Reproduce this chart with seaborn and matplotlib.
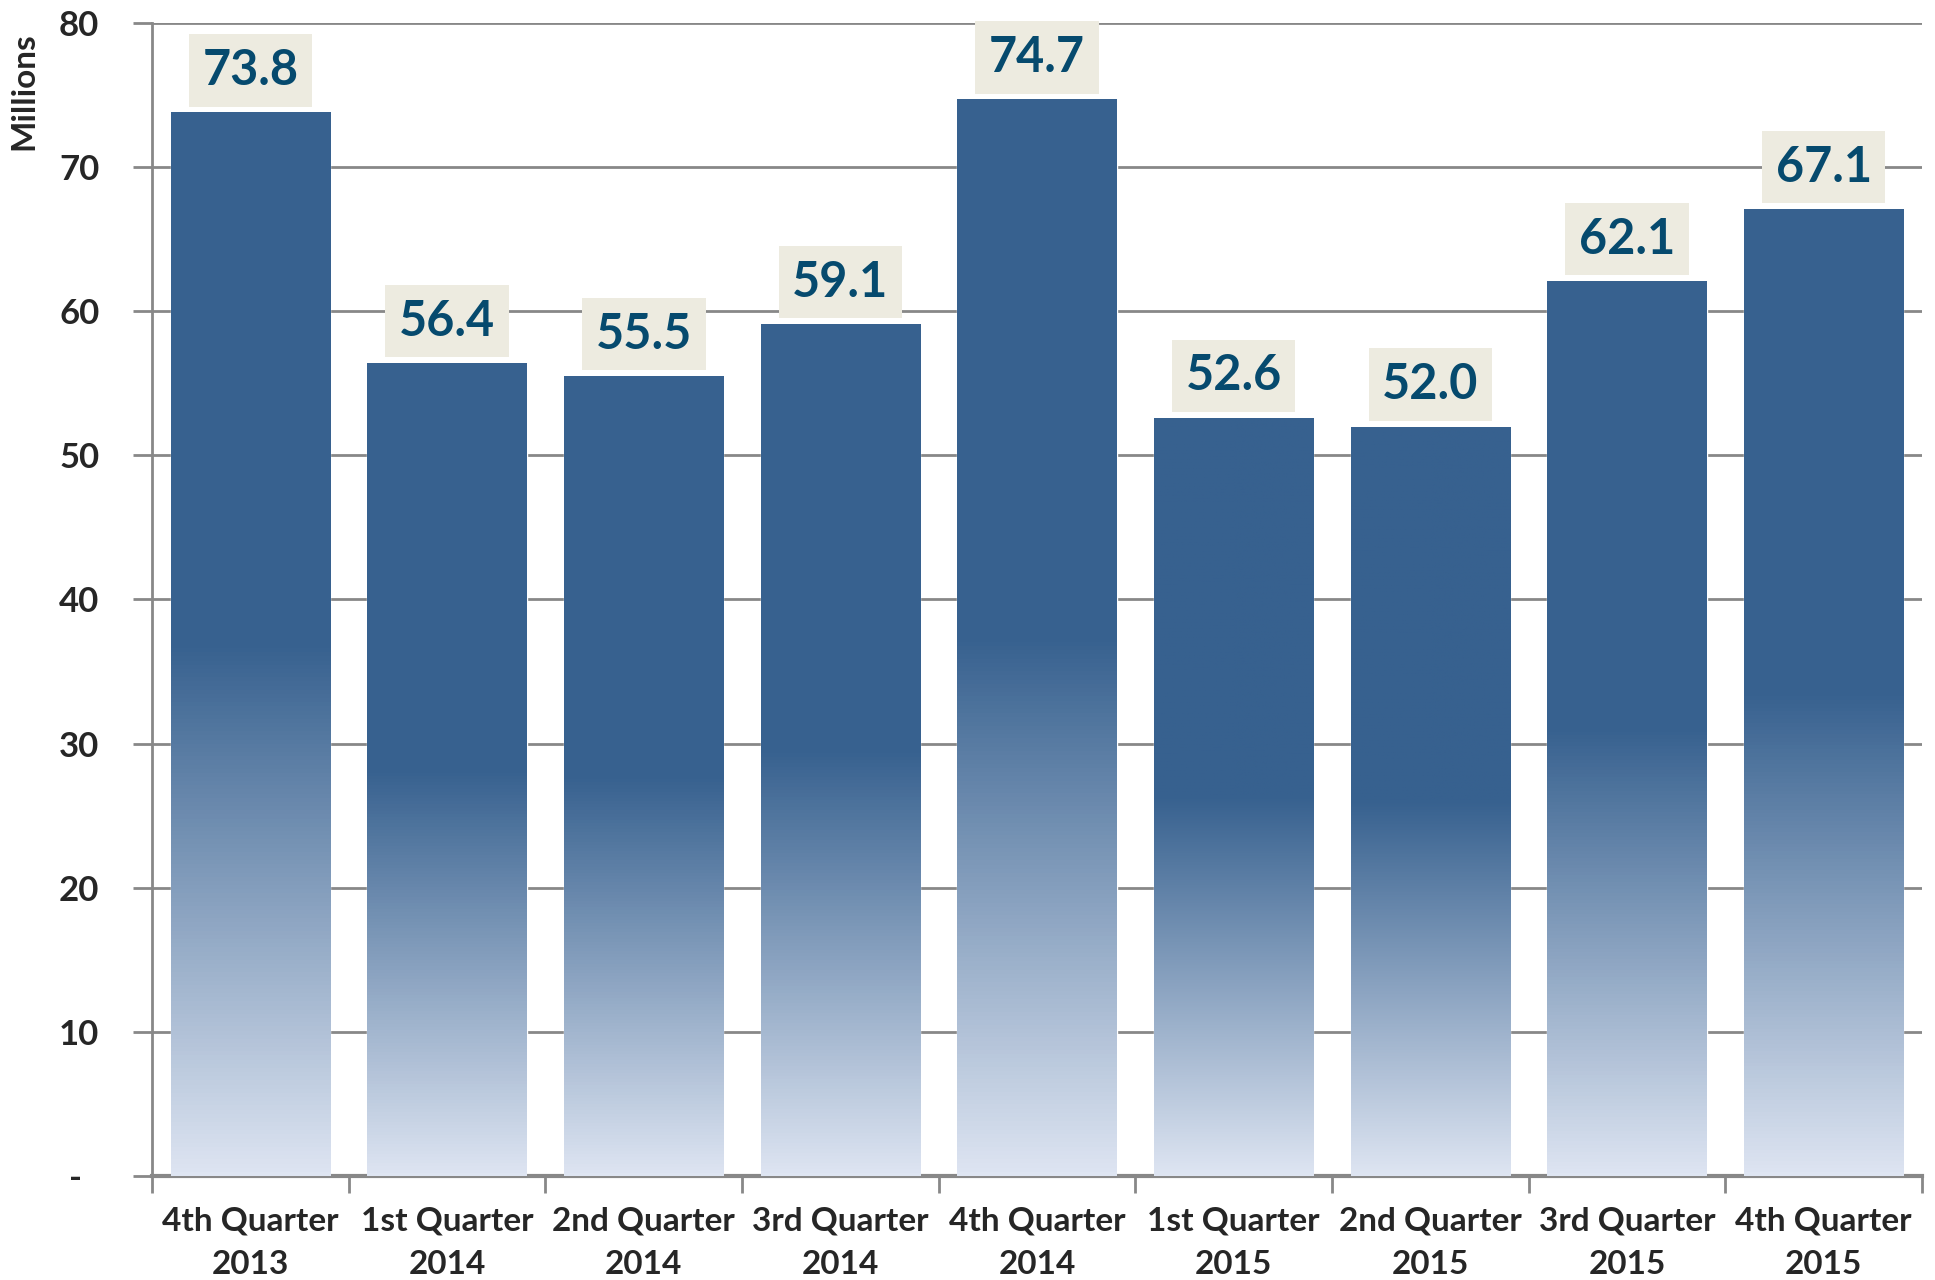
import numpy as np
import pandas as pd
import matplotlib.pyplot as plt
import seaborn as sns
from matplotlib.colors import LinearSegmentedColormap


quarters = [
    "4th Quarter\n2013", "1st Quarter\n2014", "2nd Quarter\n2014",
    "3rd Quarter\n2014", "4th Quarter\n2014", "1st Quarter\n2015",
    "2nd Quarter\n2015", "3rd Quarter\n2015", "4th Quarter\n2015",
]
values = [73.8, 56.4, 55.5, 59.1, 74.7, 52.6, 52.0, 62.1, 67.1]
y_ticks = [0, 10, 20, 30, 40, 50, 60, 70, 80]
y_tick_labels = ["-  ", "10", "20", "30", "40", "50", "60", "70", "80"]

df = pd.DataFrame({"quarter": quarters, "millions": values})

sns.set_theme(style="white")
plt.rcParams["font.family"] = ["Lato", "DejaVu Sans"]
plt.rcParams["font.weight"] = "bold"

fig = plt.figure(figsize=(19.35, 12.8), dpi=100)
ax = fig.add_axes([0.0786, 0.0813, 0.9147, 0.9007])

sns.barplot(data=df, x="quarter", y="millions", color="#37618F",
            width=0.81, ax=ax, zorder=2)

# gradient fill: pale at the base, solid blue from half height up
cmap = LinearSegmentedColormap.from_list("bar", ["#DEE5F2", "#37618F", "#37618F"])
grad = np.linspace(0, 1, 256).reshape(-1, 1)
for p in ax.patches:
    x0, y0 = p.get_x(), p.get_y()
    w, h = p.get_width(), p.get_height()
    im = ax.imshow(grad, cmap=cmap, origin="lower", aspect="auto",
                   extent=[x0, x0 + w, y0, y0 + h], zorder=3)
    im.set_clip_path(p)

ax.set_xlim(-0.5, 8.5)
ax.set_ylim(0, 80)

for i, v in enumerate(values):
    ax.annotate(f"{v:.1f}", (i, v), xytext=(0, 14), textcoords="offset points",
                ha="center", va="bottom", fontsize=35, fontweight="bold",
                color="#064A6E", zorder=5,
                bbox=dict(boxstyle="square,pad=0.28", fc="#EDEBE0", ec="none"))

ax.set_axisbelow(True)
ax.yaxis.grid(True, color="#888888", linewidth=2)
ax.set_yticks(y_ticks)
ax.set_yticklabels(y_tick_labels)
ax.tick_params(axis="y", length=14, width=2, color="#888888",
               labelsize=25, pad=24, left=True)

ax.set_xticks(np.arange(-0.5, 9, 1))
ax.set_xticklabels([])
ax.set_xticks(range(9), minor=True)
ax.set_xticklabels(quarters, minor=True, linespacing=1.6)
ax.tick_params(axis="x", which="major", length=12, width=2,
               color="#888888", bottom=True)
ax.tick_params(axis="x", which="minor", length=0, labelsize=24, pad=22)

for s in ["top", "right"]:
    ax.spines[s].set_visible(False)
ax.spines["left"].set_color("#888888")
ax.spines["left"].set_linewidth(2)
ax.spines["bottom"].set_color("#888888")
ax.spines["bottom"].set_linewidth(3)

ax.set_xlabel("")
ax.set_ylabel("")
fig.text(0.0124, 0.929, "Millions", rotation=90, fontsize=24,
         fontweight="bold", ha="center", va="center")

fig.savefig("out.png", dpi=100)
